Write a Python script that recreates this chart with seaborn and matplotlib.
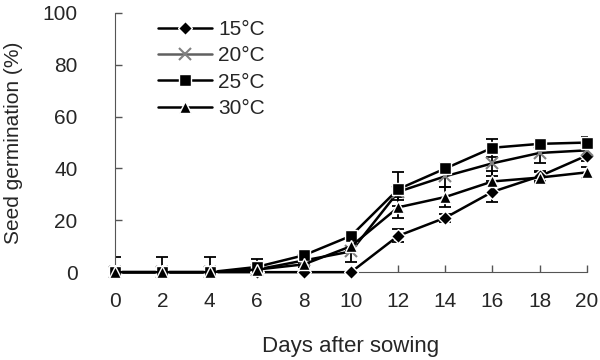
import matplotlib
matplotlib.use("Agg")
import matplotlib.pyplot as plt
import seaborn as sns
import pandas as pd

days = [0, 2, 4, 6, 8, 10, 12, 14, 16, 18, 20]
labels = ["15°C", "20°C", "25°C", "30°C"]
g15 = [0, 0, 0, 0, 0, 0, 14, 21, 31, 37, 45]
g20 = [0, 0, 0, 1, 4.5, 8, 31, 37, 42, 46, 47]
g25 = [0, 0, 0, 2, 6.5, 14, 32, 40, 48, 49.5, 50]
g30 = [0, 0, 0, 1, 3, 10, 25, 29, 35, 36.5, 38.5]
e15 = [0, 0, 0, 0, 0, 0, 2.5, 1.5, 4, 2, 2]
e20 = [0, 0, 0, 1, 1.5, 4, 3, 4, 5, 4, 2]
e25 = [6, 6, 6, 3, 1.5, 1, 6.5, 2, 3.5, 2, 2]
e30 = [0, 0, 0, 1, 1, 2, 4, 4, 4, 2, 2]

series = [g15, g20, g25, g30]
errors = [e15, e20, e25, e30]
markers = ["D", "x", "s", "^"]
msizes = [7, 9, 8.5, 8.5]

sns.set_style("ticks")
plt.rcParams["font.family"] = ["Liberation Sans", "DejaVu Sans"]

fig = plt.figure(figsize=(6, 3.6), dpi=100)
ax = fig.add_axes([0.192, 0.244, 0.786, 0.72])

for lab, vals, err, mk, ms in zip(labels, series, errors, markers, msizes):
    df = pd.DataFrame({"day": days, "germ": vals})
    ax.errorbar(days, vals, yerr=err, fmt="none", ecolor="black",
                elinewidth=1.3, capsize=4, capthick=1.3, zorder=2)
    n_before = len(ax.get_lines())
    sns.lineplot(data=df, x="day", y="germ", ax=ax, color="black",
                 marker=mk, markersize=ms, linewidth=1.8, label=lab,
                 markeredgewidth=1.5 if mk == "x" else 1, zorder=3)
    for line in ax.get_lines()[n_before:]:
        line.set_clip_on(False)
        if mk == "x":
            line.set_markeredgecolor("#808080")
            line.set_markerfacecolor("#808080")

ax.set_xlim(0, 20)
ax.set_ylim(0, 100)
ax.set_xticks(days)
ax.set_yticks([0, 20, 40, 60, 80, 100])
ax.tick_params(direction="in", length=5, labelsize=15, width=1, color="#555555")
ax.tick_params(axis="x", pad=14)
ax.tick_params(axis="y", pad=27)
for s in ["top", "right"]:
    ax.spines[s].set_visible(False)
for s in ["left", "bottom"]:
    ax.spines[s].set_color("#555555")
ax.set_xlabel("Days after sowing", fontsize=16, labelpad=18)
ax.set_ylabel("Seed germination (%)", fontsize=15, labelpad=14)

leg = ax.legend(loc="upper left", bbox_to_anchor=(0.05, 1.045), frameon=False,
                fontsize=15, handlelength=2.6, labelspacing=0.35, handletextpad=0.3)
for h in leg.legend_handles:
    if h.get_marker() == "x":
        h.set_markeredgecolor("#808080")
        h.set_color("#606060")

fig.savefig("out.png", dpi=100)
